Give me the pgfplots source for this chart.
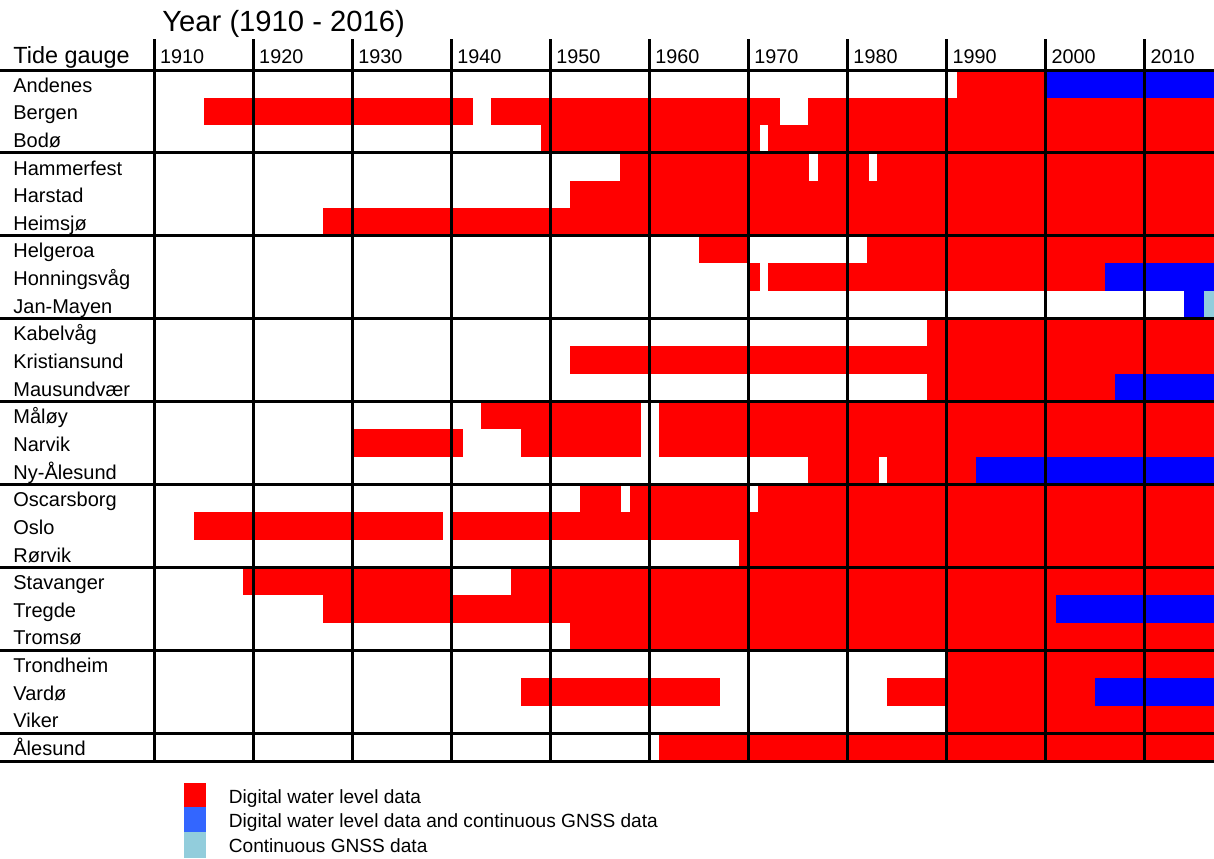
\documentclass[border=0pt]{standalone}
\usepackage{fontspec}
\setmainfont{Liberation Sans}
\usepackage{pgfplots}
\pgfplotsset{compat=1.18}
\definecolor{gred}{RGB}{255,0,0}
\definecolor{gblue}{RGB}{0,0,255}
\definecolor{glight}{RGB}{146,205,220}
\definecolor{legblue}{RGB}{51,102,255}
% colour, start year, end year, row top, row bottom
\newcommand{\seg}[5]{\addplot[fill=#1,draw=none,forget plot] coordinates {(#2,#4) (#3,#4) (#3,#5) (#2,#5)};}
\begin{document}
\begin{tikzpicture}
\path[use as bounding box] (0,0) rectangle (607pt,-429pt);
\begin{axis}[at={(77.15pt,-35pt)}, anchor=north west, scale only axis,
  width=529.85pt, height=345.5pt, xmin=1910, xmax=2017, ymin=0, ymax=25,
  y dir=reverse, hide axis]
% 0 Andenes
\seg{gred}{1991}{2000}{0}{1}
\seg{gblue}{2000}{2017}{0}{1}
% 1 Bergen
\seg{gred}{1915}{1942.2}{1}{2}
\seg{gred}{1944}{1973.2}{1}{2}
\seg{gred}{1976}{2017}{1}{2}
% 2 Bodo
\seg{gred}{1949}{1971.2}{2}{3}
\seg{gred}{1972}{2017}{2}{3}
% 3 Hammerfest
\seg{gred}{1957}{1976.1}{3}{4}
\seg{gred}{1977}{1982.2}{3}{4}
\seg{gred}{1983}{2017}{3}{4}
% 4 Harstad
\seg{gred}{1952}{2017}{4}{5}
% 5 Heimsjo
\seg{gred}{1927}{2017}{5}{6}
% 6 Helgeroa
\seg{gred}{1965}{1970}{6}{7}
\seg{gred}{1982}{2017}{6}{7}
% 7 Honningsvag
\seg{gred}{1970}{1971.2}{7}{8}
\seg{gred}{1972}{2006}{7}{8}
\seg{gblue}{2006}{2017}{7}{8}
% 8 Jan-Mayen
\seg{gblue}{2014}{2016}{8}{9}
\seg{glight}{2016}{2017}{8}{9}
% 9 Kabelvag
\seg{gred}{1988}{2017}{9}{10}
% 10 Kristiansund
\seg{gred}{1952}{2017}{10}{11}
% 11 Mausundvaer
\seg{gred}{1988}{2007}{11}{12}
\seg{gblue}{2007}{2017}{11}{12}
% 12 Maloy
\seg{gred}{1943}{1959.1}{12}{13}
\seg{gred}{1961}{2017}{12}{13}
% 13 Narvik
\seg{gred}{1930}{1941.2}{13}{14}
\seg{gred}{1947}{1959.1}{13}{14}
\seg{gred}{1961}{2017}{13}{14}
% 14 Ny-Alesund
\seg{gred}{1976}{1983.2}{14}{15}
\seg{gred}{1984}{1993}{14}{15}
\seg{gblue}{1993}{2017}{14}{15}
% 15 Oscarsborg
\seg{gred}{1953}{1957.1}{15}{16}
\seg{gred}{1958}{1970}{15}{16}
\seg{gred}{1971}{2017}{15}{16}
% 16 Oslo
\seg{gred}{1914}{1939.2}{16}{17}
\seg{gred}{1940}{2017}{16}{17}
% 17 Rorvik
\seg{gred}{1969}{2017}{17}{18}
% 18 Stavanger
\seg{gred}{1919}{1940}{18}{19}
\seg{gred}{1946}{2017}{18}{19}
% 19 Tregde
\seg{gred}{1927}{2001}{19}{20}
\seg{gblue}{2001}{2017}{19}{20}
% 20 Tromso
\seg{gred}{1952}{2017}{20}{21}
% 21 Trondheim
\seg{gred}{1990}{2017}{21}{22}
% 22 Vardo
\seg{gred}{1947}{1967.1}{22}{23}
\seg{gred}{1984}{2005}{22}{23}
\seg{gblue}{2005}{2017}{22}{23}
% 23 Viker
\seg{gred}{1990}{2017}{23}{24}
% 24 Alesund
\seg{gred}{1961}{2017}{24}{25}
\end{axis}
\begin{scope}[x=0.5pt,y=-0.5pt]
% grid lines
\foreach \k in {0,...,10}
  \draw[line width=1.5pt] ({154.3+99.04*\k},39) -- ({154.3+99.04*\k},761);
\foreach \r in {0,3,6,9,12,15,18,21,24,25}
  \draw[line width=1.5pt] (0,{70+27.64*\r}) -- (1214,{70+27.64*\r});
% title and header
\node[anchor=base west,inner sep=0] at (162,31.5) {\fontsize{14.6pt}{17pt}\selectfont Year (1910 - 2016)};
\node[anchor=base west,inner sep=0] at (13,63.5) {\fontsize{11.7pt}{14pt}\selectfont Tide gauge};
\foreach \yr [count=\k from 0] in {1910,1920,1930,1940,1950,1960,1970,1980,1990,2000,2010}
  \node[anchor=base west,inner sep=0] at ({154.3+99.04*\k+5.5},63.3) {\fontsize{9.9pt}{12pt}\selectfont \yr};
% row labels
\foreach \nm [count=\i from 0] in {Andenes,Bergen,Bodø,Hammerfest,Harstad,Heimsjø,Helgeroa,Honningsvåg,Jan-Mayen,Kabelvåg,Kristiansund,Mausundvær,Måløy,Narvik,Ny-Ålesund,Oscarsborg,Oslo,Rørvik,Stavanger,Tregde,Tromsø,Trondheim,Vardø,Viker,Ålesund}
  \node[anchor=base west,inner sep=0] at (13,{70+27.64*\i+13.82+8.3}) {\fontsize{10pt}{12pt}\selectfont \nm};
% legend
\fill[gred] (184,783) rectangle (206,807);
\fill[legblue] (184,807) rectangle (206,832);
\fill[glight] (184,832) rectangle (206,858);
\node[anchor=base west,inner sep=0] at (228.5,803.5) {\fontsize{9.55pt}{11pt}\selectfont Digital water level data};
\node[anchor=base west,inner sep=0] at (228.5,827.8) {\fontsize{9.55pt}{11pt}\selectfont Digital water level data and continuous GNSS data};
\node[anchor=base west,inner sep=0] at (228.5,852.3) {\fontsize{9.55pt}{11pt}\selectfont Continuous GNSS data};
\end{scope}
\end{tikzpicture}
\end{document}
